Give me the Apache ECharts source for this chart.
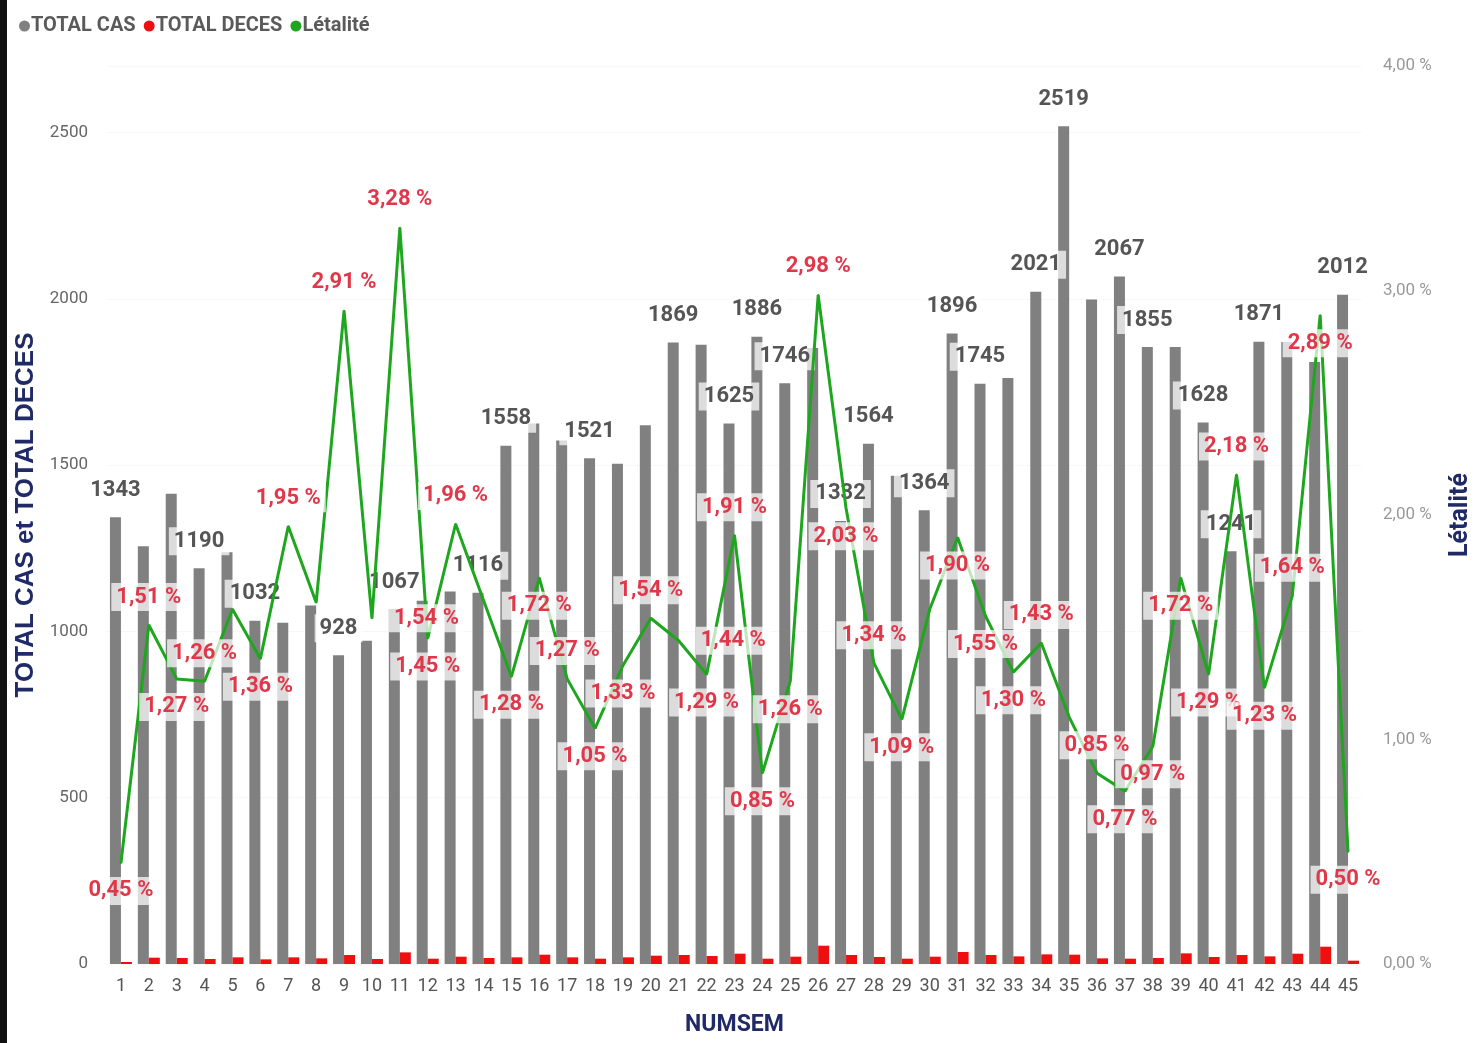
<!DOCTYPE html>
<html lang="fr">
<head>
<meta charset="utf-8" />
<title>Cas, décès et létalité par semaine</title>
<style>
  html, body { margin: 0; padding: 0; background: #fff; }
  #main { width: 1481px; height: 1043px; }
</style>
</head>
<body>
<div id="main"></div>
<script src="https://cdn.jsdelivr.net/npm/echarts@6/dist/echarts.min.js"></script>
<script>
const semaines = Array.from({ length: 45 }, (_, i) => String(i + 1));

const totalCas = [1343, 1256, 1414, 1190, 1238, 1032, 1026, 1078, 928, 972,
  1067, 1092, 1120, 1116, 1558, 1625, 1574, 1521, 1504, 1620,
  1869, 1862, 1625, 1886, 1746, 1852, 1332, 1564, 1468, 1364,
  1896, 1745, 1762, 2021, 2519, 1998, 2067, 1855, 1855, 1628,
  1241, 1871, 1870, 1810, 2012];

const totalDeces = [6, 19, 18, 15, 20, 14, 20, 17, 27, 15,
  35, 16, 22, 18, 20, 28, 20, 16, 20, 25,
  27, 24, 31, 16, 22, 55, 27, 21, 16, 22,
  36, 27, 23, 29, 28, 17, 16, 18, 32, 21,
  27, 23, 31, 52, 10];

const letalite = [0.45, 1.51, 1.27, 1.26, 1.58, 1.36, 1.95, 1.61, 2.91, 1.54,
  3.28, 1.45, 1.96, 1.62, 1.28, 1.72, 1.27, 1.05, 1.33, 1.54,
  1.44, 1.29, 1.91, 0.85, 1.26, 2.98, 2.03, 1.34, 1.09, 1.58,
  1.90, 1.55, 1.30, 1.43, 1.10, 0.85, 0.77, 0.97, 1.72, 1.29,
  2.18, 1.23, 1.64, 2.89, 0.50];

// semaines dont l'étiquette est visible
const casAvecEtiquette = [1, 4, 6, 9, 11, 14, 15, 18, 21, 23, 24, 25, 27, 28, 30,
  31, 32, 34, 35, 37, 38, 40, 41, 42, 45];
const letaliteSansEtiquette = [5, 8, 14, 30, 35];

// placement des étiquettes de létalité (t = dessus, b = dessous, r = droite)
const placement = 'btbtbbtbtrtbtbbbtbbtrbtbbtbtbbbbbtbtbbbbtbtbb'.split('');

const NAVY = '#1f2a66';
const FONT = 'Roboto, sans-serif';
const fmtPct = v => v.toFixed(2).replace('.', ',') + ' %';
const labelBg = 'rgba(255,255,255,0.72)';

const posMap = { t: 'top', b: 'bottom', r: 'right' };

const chart = echarts.init(document.getElementById('main'));

chart.setOption({
  animation: false,
  textStyle: { fontFamily: FONT },
  graphic: [{
    type: 'rect',
    shape: { x: 0, y: 0, width: 7, height: 1043 },
    style: { fill: '#111' }
  }],
  legend: {
    left: 14,
    top: 11,
    icon: 'circle',
    itemWidth: 11,
    itemHeight: 11,
    itemGap: 8,
    textStyle: { color: '#5a5a5a', fontSize: 20, fontWeight: 'bold', fontFamily: FONT, padding: [0, 0, 0, -4] },
    data: ['TOTAL CAS', 'TOTAL DECES', 'Létalité']
  },
  grid: { left: 107, right: 115, top: 66, bottom: 79 },
  xAxis: {
    type: 'category',
    data: semaines,
    name: 'NUMSEM',
    nameLocation: 'middle',
    nameGap: 50,
    nameTextStyle: { color: NAVY, fontSize: 23, fontWeight: 'bold', fontFamily: FONT },
    axisLine: { show: false },
    axisTick: { show: false },
    axisLabel: { color: '#555', fontSize: 18, margin: 13, interval: 0 }
  },
  yAxis: [{
    type: 'value',
    min: 0,
    max: 2700,
    interval: 500,
    name: 'TOTAL CAS et TOTAL DECES',
    nameLocation: 'middle',
    nameRotate: 90,
    nameGap: 62,
    nameTextStyle: { color: NAVY, fontSize: 26, fontWeight: 'bold', fontFamily: 'Liberation Sans, Arial, sans-serif' },
    axisLabel: { color: '#666', fontSize: 17, margin: 19, showMaxLabel: false, formatter: v => String(v) },
    splitLine: { lineStyle: { color: '#f1f1f1', type: 'dotted' } }
  }, {
    type: 'value',
    min: 0,
    max: 4,
    interval: 1,
    name: 'Létalité',
    nameLocation: 'middle',
    nameRotate: 90,
    nameGap: 86,
    nameTextStyle: { color: NAVY, fontSize: 25, fontWeight: 'bold', fontFamily: FONT },
    axisLabel: { color: '#999', fontSize: 17, margin: 21, formatter: fmtPct },
    splitLine: { show: false }
  }],
  series: [{
    name: 'TOTAL CAS',
    type: 'bar',
    barWidth: 11,
    barGap: '0%',
    itemStyle: { color: '#808080' },
    data: totalCas.map((v, i) => ({
      value: v,
      label: { show: casAvecEtiquette.includes(i + 1) }
    })),
    label: {
      position: 'top',
      distance: 13,
      color: '#555',
      fontSize: 22,
      fontWeight: 'bold',
      backgroundColor: labelBg,
      padding: [3, 5]
    }
  }, {
    name: 'TOTAL DECES',
    type: 'bar',
    barWidth: 11,
    itemStyle: { color: '#ee1010' },
    data: totalDeces
  }, {
    name: 'Létalité',
    type: 'line',
    yAxisIndex: 1,
    symbol: 'circle',
    symbolSize: 2,
    itemStyle: { color: '#1fa61f' },
    lineStyle: { color: '#1fa61f', width: 3 },
    data: letalite.map((v, i) => ({
      value: v,
      label: {
        show: !letaliteSansEtiquette.includes(i + 1),
        position: posMap[placement[i]],
        distance: placement[i] === 'r' ? 16 : 13
      }
    })),
    label: {
      formatter: p => fmtPct(p.value),
      color: '#e0384a',
      fontSize: 22,
      fontWeight: 'bold',
      backgroundColor: labelBg,
      padding: [3, 5]
    }
  }]
});
</script>
</body>
</html>
